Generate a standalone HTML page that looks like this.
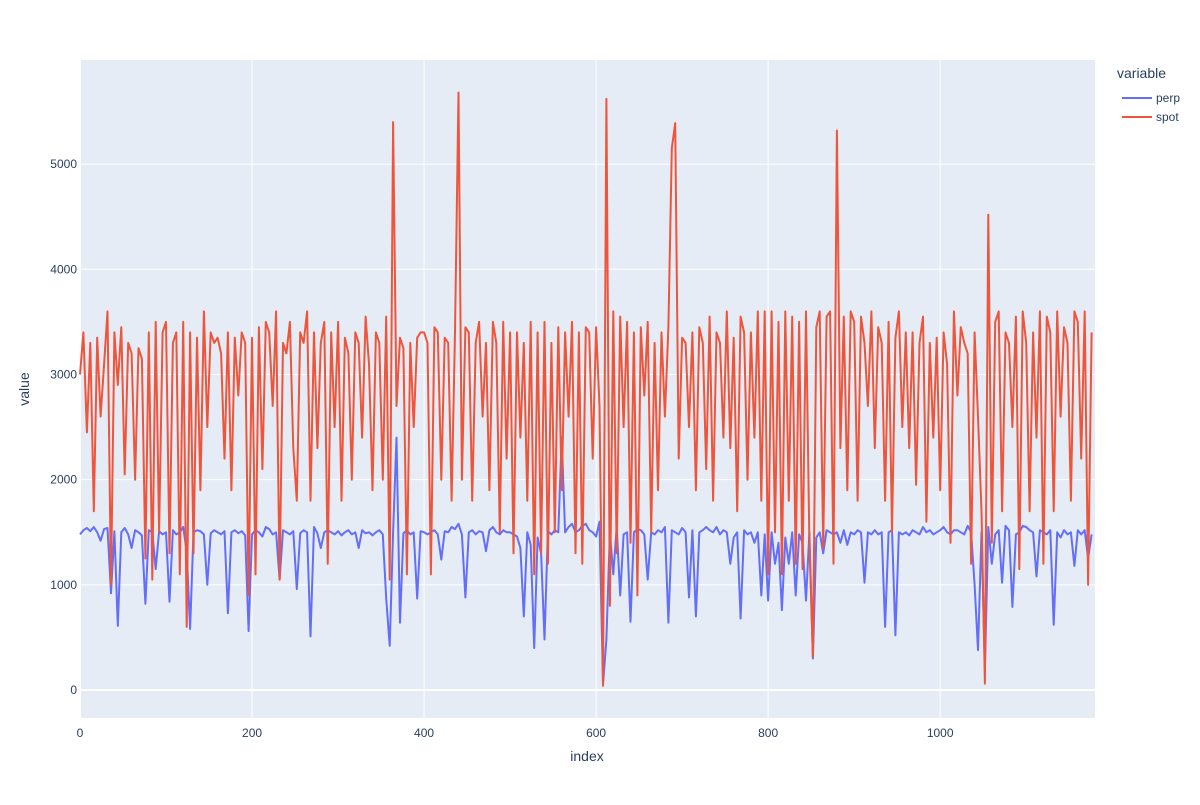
<!DOCTYPE html>
<html><head><meta charset="utf-8"><style>
body{margin:0;background:#fff;font-family:"Liberation Sans",Arial,sans-serif;}
svg text{font-family:"Liberation Sans",Arial,sans-serif;fill:#2a3f5f;}
</style></head><body>
<svg id="chart" width="1200" height="800">
<rect x="0" y="0" width="1200" height="800" fill="#fff"/>
<rect x="80" y="60" width="1015" height="658" fill="#e5ecf6"/>
<g id="grid"></g><g id="series"></g><g id="axes"></g>
<text x="587" y="761" font-size="14" text-anchor="middle">index</text>
<text transform="translate(29,389) rotate(-90)" font-size="14" text-anchor="middle">value</text>
<g>
<text x="1117" y="78" font-size="14">variable</text>
<g><line x1="1122" y1="98" x2="1152" y2="98" stroke="#636efa" stroke-width="2"/><text x="1156" y="102" font-size="12">perp</text></g>
<g><line x1="1122" y1="117" x2="1152" y2="117" stroke="#EF553B" stroke-width="2"/><text x="1156" y="121" font-size="12">spot</text></g>
</g>
</svg>
<script>
const step = 4;
const xTicks = [0,200,400,600,800,1000];
const yTicks = [0,1000,2000,3000,4000,5000];
const spot = [3000,3400,2450,3300,1700,3350,2600,3100,3600,1000,3400,2900,3450,2050,3300,3200,2000,3250,3150,1250,
3400,1050,3500,1500,3400,3500,1300,3300,3400,1100,3500,600,3400,1300,3350,1900,3600,2500,3400,3300,
3350,3200,2200,3400,1900,3350,2800,3400,3300,900,3350,1100,3450,2100,3500,3400,2700,3600,1050,3300,
3200,3500,2300,1800,3400,3300,3600,1800,3400,2300,3300,3500,1200,3400,2500,3500,1800,3350,3200,2000,
3400,3300,2400,3550,3100,1900,3400,3300,2000,3550,1050,5400,2700,3350,3250,1100,3300,2500,3350,3400,
3400,3300,1100,3450,3400,2000,3350,3300,1800,3400,5680,2000,3450,3400,1800,3300,3500,2600,3300,1900,
3500,3300,1500,3500,2200,3400,1300,3400,2400,3300,1800,3500,1100,3400,1300,3500,1200,3300,1500,3450,
1900,3400,2600,3500,1300,3400,1200,3450,3400,2200,3450,2700,40,5620,800,3600,1300,3550,2500,3500,
1400,3400,900,3450,2800,3500,1500,3300,1900,3400,2600,3450,5150,5390,2200,3350,3300,2500,3400,1900,
3450,3300,2100,3550,1800,3400,3300,2400,3600,2300,3350,1700,3550,3400,2000,3400,2400,3600,1800,3600,
1100,3600,1500,3500,1100,3600,1800,3550,1200,3500,1150,3600,1400,320,3450,3600,1350,3550,3600,1200,
5320,2300,3550,1900,3600,3500,1800,3550,3300,2700,3600,2300,3450,3300,1800,3500,1500,3350,3600,2500,
3400,2300,3400,1950,3300,3550,1600,3300,2400,3350,1900,3400,3100,1400,3600,2800,3450,3300,3200,1200,
3400,2600,1700,60,4520,1400,3500,3600,1700,3400,3300,2500,3550,1150,3600,3300,1700,3400,2400,3600,
1200,3550,3400,1700,3600,2600,3450,3300,1800,3600,3500,2200,3600,1000,3400];
const perp = [1480,1520,1540,1510,1550,1500,1420,1530,1540,920,1510,610,1500,1540,1480,1350,1520,1500,1470,820,
1520,1500,1150,1510,1480,1500,840,1520,1480,1500,1550,1320,580,1500,1520,1510,1480,1000,1490,1520,
1500,1480,1510,730,1500,1520,1490,1510,1470,560,1480,1520,1500,1460,1550,1530,1480,1500,1050,1520,
1500,1480,1510,960,1490,1520,1500,510,1550,1490,1350,1500,1520,1500,1480,1510,1470,1500,1520,1480,
1500,1350,1520,1490,1500,1470,1500,1520,1480,870,420,1500,2400,640,1490,1520,1480,1500,870,1510,
1500,1480,1500,1520,1480,1240,1510,1500,1550,1530,1580,1480,880,1500,1520,1480,1510,1500,1320,1520,
1550,1500,1480,1520,1500,1500,1480,1460,1350,700,1500,1380,400,1450,1300,480,1510,1480,1520,1500,
2400,1500,1550,1580,1500,1520,1560,1580,1520,1500,1460,1600,50,480,1500,1100,1550,900,1480,1500,
650,1500,1530,1520,1480,1050,1500,1480,1520,1500,1550,640,1520,1500,1480,1540,1500,880,1520,700,
1500,1520,1550,1520,1500,1550,1480,1520,1500,1200,1450,1500,680,1520,1480,1500,1400,1500,900,1480,
850,1500,1200,1400,760,1450,1200,1500,900,1480,1400,850,1500,300,1450,1500,1300,1520,1500,1480,
1500,1400,1520,1380,1500,1480,1520,1500,1020,1500,1480,1520,1480,1500,600,1500,1520,520,1500,1480,
1500,1470,1520,1500,1480,1550,1500,1520,1480,1500,1520,1550,1500,1480,1520,1520,1500,1480,1560,1500,
1000,380,1500,200,1550,1200,1480,1520,1020,1560,1520,790,1480,1500,1560,1550,1520,1500,1080,1520,
1500,1480,1520,620,1500,1450,1520,1480,1500,1180,1520,1480,1520,1250,1480];
const NS="http://www.w3.org/2000/svg";
const X0=80,X1=1095,XMAX=1180,Y0=718,Y1=60,YMIN=-266,YMAX=5990;
const sx=v=>X0+(v/XMAX)*(X1-X0);
const sy=v=>Y0-(v-YMIN)/(YMAX-YMIN)*(Y0-Y1);
const grid=document.getElementById('grid'),axes=document.getElementById('axes'),series=document.getElementById('series');
function mk(t,a){const e=document.createElementNS(NS,t);for(const k in a)e.setAttribute(k,a[k]);return e;}
xTicks.forEach(t=>{
  const l=mk('line',{x1:sx(t),x2:sx(t),y1:Y1,y2:Y0,stroke:'#fff','stroke-width':t===0?2:1});
  
  
  grid.appendChild(l);
  const tx=mk('text',{x:sx(t),y:737,'font-size':12,'text-anchor':'middle'});tx.textContent=t;
  
  
  axes.appendChild(tx);
});
yTicks.forEach(t=>{
  const l=mk('line',{x1:X0,x2:X1,y1:sy(t),y2:sy(t),stroke:'#fff','stroke-width':t===0?2:1});
  
  
  grid.appendChild(l);
  const tx=mk('text',{x:77,y:sy(t)+4,'font-size':12,'text-anchor':'end'});tx.textContent=t;
  
  
  axes.appendChild(tx);
});
function line(data,color,name){
  const d=data.map((v,i)=>(i?'L':'M')+sx(i*step).toFixed(1)+','+sy(v).toFixed(1)).join('');
  const p=mk('path',{d:d,fill:'none',stroke:color,'stroke-width':2,'stroke-linejoin':'round'});
  
  
  series.appendChild(p);
}
line(perp,'#636efa','perp-line');
line(spot,'#EF553B','spot-line');
</script>
</body></html>
